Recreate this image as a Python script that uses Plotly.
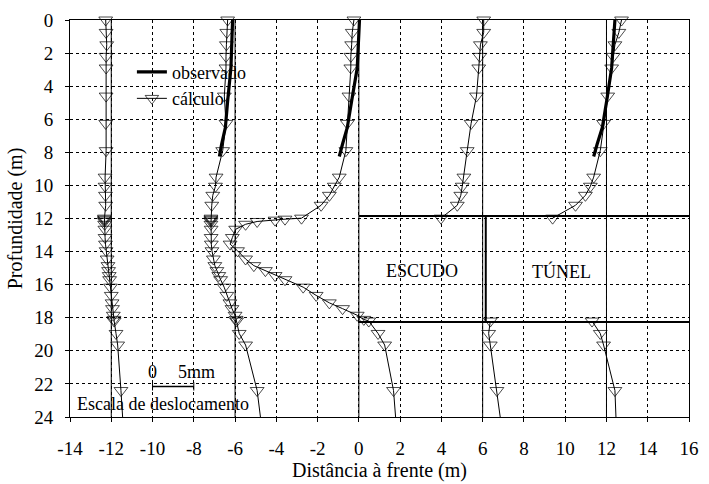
import plotly.graph_objects as go

# ---------------- data ----------------
depth_top = [0, 0.75, 1.5, 2.2, 2.9, 4.6, 6.25, 7.9, 9.5, 10.05, 10.6, 11.2, 11.98]
depth_tunnel = [12.04, 12.1, 12.18, 12.35, 12.65, 13.15, 13.55, 13.95, 14.45, 14.85,
                15.15, 15.45, 15.7, 16.15, 16.65, 17.1, 17.45, 17.85, 18.1]
depth_bottom = [18.2, 18.95, 19.65, 22.4, 24]

calc1_x = [-12.27, -12.25, -12.22, -12.25, -12.25, -12.25, -12.27, -12.25, -12.3, -12.3, -12.28, -12.27, -12.33,
           -12.33, -12.33, -12.33, -12.32, -12.31, -12.30, -12.28, -12.25, -12.2, -12.16, -12.13, -12.1, -12.08,
           -12.04, -12.0, -11.96, -11.94, -11.9, -11.87,
           -11.86, -11.77, -11.69, -11.53, -11.45]
calc2_x = [-6.36, -6.4, -6.42, -6.44, -6.44, -6.52, -6.44, -6.6, -6.92, -6.95, -7.08, -7.13, -7.17,
           -7.17, -7.17, -7.17, -7.17, -7.16, -7.16, -7.15, -7.12, -7.05, -6.98, -6.88, -6.79, -6.7,
           -6.53, -6.4, -6.25, -6.15, -6.0, -5.95,
           -5.93, -5.8, -5.49, -4.93, -4.77]
calc3_x = [-0.24, -0.32, -0.35, -0.39, -0.39, -0.48, -0.56, -0.63, -0.95, -1.19, -1.43, -1.83, -2.78,
           -3.58, -4.06, -4.93, -5.49, -5.97, -6.13, -6.24, -5.88, -5.49, -5.09, -4.53, -4.06, -3.58,
           -2.70, -2.07, -1.43, -0.79, -0.08, 0.24,
           0.48, 0.93, 1.25, 1.68, 1.78]
calc4_top_x = [6.05, 6.05, 5.89, 5.86, 5.81, 5.70, 5.44, 5.25, 5.09, 5.01, 4.94, 4.77, 3.98]
calc4_bot_x = [6.37, 6.29, 6.37, 6.69, 6.85]
calc5_top_x = [12.73, 12.60, 12.41, 12.33, 12.25, 12.06, 11.86, 11.70, 11.38, 11.22, 10.98, 10.50, 9.39]
calc5_bot_x = [11.30, 11.70, 11.86, 12.41, 12.46]

obs_depth = [0, 2.9, 4.9, 6.5, 7.5, 8.25]
obs2_x = [-6.12, -6.2, -6.36, -6.47, -6.65, -6.76]
obs3_x = [0.03, -0.08, -0.35, -0.56, -0.79, -0.95]
obs5_x = [12.41, 12.25, 12.01, 11.80, 11.55, 11.38]

baselines = [-12, -6, 0, 6, 12]
tunnel_crown = 11.85
tunnel_invert = 18.25
face_x = 0
shield_end_x = 6.15
x_max = 16
scale_bar = [-10, -8]
scale_bar_depth = 22.15

x_ticks = list(range(-14, 17, 2))
x_ticktext = [str(v) for v in x_ticks]          # plain hyphen minus, as in the original
y_ticks = list(range(0, 25, 2))
y_ticktext = [str(v) for v in y_ticks]

FONT = "Liberation Serif"
MSIZE = 12

# ---------------- figure ----------------
fig = go.Figure()

depth_full = depth_top + depth_tunnel + depth_bottom


def sizes(n):
    s = [MSIZE] * n
    s[-1] = 0          # last node lies on the bottom axis: no marker drawn there
    return s


calc_style = dict(mode="lines+markers",
                  line=dict(color="black", width=1),
                  cliponaxis=False)

for i, xs in enumerate([calc1_x, calc2_x, calc3_x]):
    fig.add_trace(go.Scatter(
        x=xs, y=depth_full, name="cálculo", showlegend=(i == 0), legendrank=2,
        marker=dict(symbol="triangle-down-open", size=sizes(len(xs)), color="black",
                    line=dict(width=1)),
        **calc_style))

for xt, xb in [(calc4_top_x, calc4_bot_x), (calc5_top_x, calc5_bot_x)]:
    xs = xt + [None] + xb
    ys = depth_top + [None] + depth_bottom
    fig.add_trace(go.Scatter(
        x=xs, y=ys, name="cálculo", showlegend=False,
        marker=dict(symbol="triangle-down-open", size=sizes(len(xs)), color="black",
                    line=dict(width=1)),
        **calc_style))

for i, xs in enumerate([obs2_x, obs3_x, obs5_x]):
    fig.add_trace(go.Scatter(
        x=xs, y=obs_depth, mode="lines", name="observado", showlegend=(i == 0), legendrank=1,
        line=dict(color="black", width=3.2), cliponaxis=False))

shapes = []
for b in baselines:
    shapes.append(dict(type="line", xref="x", yref="y", x0=b, x1=b, y0=0, y1=24,
                       line=dict(color="black", width=1), layer="below"))
for d in [tunnel_crown, tunnel_invert]:
    shapes.append(dict(type="line", xref="x", yref="y", x0=face_x, x1=x_max, y0=d, y1=d,
                       line=dict(color="black", width=2)))
shapes.append(dict(type="line", xref="x", yref="y", x0=shield_end_x, x1=shield_end_x,
                   y0=tunnel_crown, y1=tunnel_invert, line=dict(color="black", width=2)))
# displacement scale bar
shapes.append(dict(type="line", xref="x", yref="y", x0=scale_bar[0], x1=scale_bar[1],
                   y0=scale_bar_depth, y1=scale_bar_depth, line=dict(color="black", width=1.5)))
for sx in scale_bar:
    shapes.append(dict(type="line", xref="x", yref="y", x0=sx, x1=sx,
                       y0=scale_bar_depth - 0.25, y1=scale_bar_depth + 0.25,
                       line=dict(color="black", width=1)))

txt = dict(family=FONT, color="black", size=18)
annotations = [
    dict(x=(face_x + shield_end_x) / 2, y=15.2, text="ESCUDO", showarrow=False, font=txt),
    dict(x=9.8, y=15.2, text="TÚNEL", showarrow=False, font=txt),
    dict(x=scale_bar[0], y=21.3, text="0", showarrow=False, font=txt),
    dict(x=-7.85, y=21.3, text="5mm", showarrow=False, font=txt),
    dict(x=-13.75, y=23.2, text="Escala de deslocamento", showarrow=False, xanchor="left", font=txt),
]

fig.update_layout(
    width=709, height=484,
    margin=dict(l=70, r=10, t=19, b=67),
    paper_bgcolor="white", plot_bgcolor="white",
    font=dict(family=FONT, color="black", size=18),
    shapes=shapes, annotations=annotations,
    legend=dict(x=0.1, y=0.915, xanchor="left", yanchor="top",
                bgcolor="rgba(0,0,0,0)", font=dict(size=18, family=FONT),
                tracegroupgap=0, itemwidth=30),
    showlegend=True,
)

axis_common = dict(ticks="outside", ticklen=4, tickcolor="black",
                   showline=True, linecolor="black", linewidth=1, mirror=True,
                   showgrid=True, gridcolor="black", griddash="dot", gridwidth=1,
                   zeroline=False, tickfont=dict(size=19, family=FONT))

fig.update_xaxes(range=[-14, 16], tickvals=x_ticks, ticktext=x_ticktext, ticklabelstandoff=10,
                 title=dict(text="Distância à frente (m)", font=dict(size=20, family=FONT), standoff=0),
                 **axis_common)
fig.update_yaxes(range=[24, 0], tickvals=y_ticks, ticktext=y_ticktext, ticklabelstandoff=8,
                 title=dict(text="Profundidade (m)", font=dict(size=20, family=FONT), standoff=6),
                 **axis_common)

fig.write_html("out.html")
